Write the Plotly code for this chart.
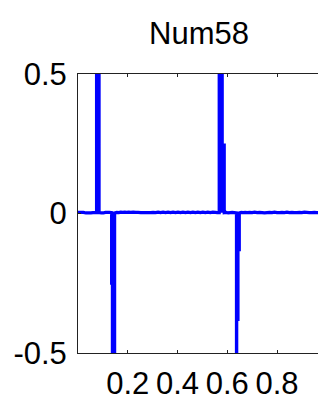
import plotly.graph_objects as go

title_text = "Num58"
x_tick_vals = [0.2, 0.4, 0.6, 0.8]
x_tick_text = ["0.2", "0.4", "0.6", "0.8"]
y_tick_vals = [-0.5, 0, 0.5]
y_tick_text = ["-0.5", "0", "0.5"]

signal_x = [
    0.000, 0.012, 0.022, 0.032, 0.042, 0.052, 0.060, 0.068, 0.0746,
    0.0746, 0.0847, 0.0847, 0.094, 0.102, 0.110, 0.118, 0.126, 0.1351,
    0.1351, 0.1383, 0.1383, 0.1472, 0.1472, 0.156, 0.164, 0.172, 0.180,
    0.188, 0.196, 0.204, 0.212, 0.222, 0.232, 0.242, 0.252, 0.262, 0.272,
    0.282, 0.292, 0.302, 0.312, 0.322, 0.332, 0.342, 0.352, 0.362, 0.372,
    0.382, 0.392, 0.402, 0.412, 0.422, 0.432, 0.442, 0.452, 0.462, 0.472,
    0.482, 0.492, 0.502, 0.512, 0.522, 0.532, 0.542, 0.552, 0.560, 0.5677,
    0.5677, 0.5798, 0.5798, 0.5798, 0.5879, 0.5879, 0.596, 0.604, 0.612, 0.620,
    0.628, 0.6371, 0.6371, 0.6380, 0.6380, 0.6431, 0.6431, 0.6484, 0.6484,
    0.656, 0.664, 0.672, 0.680, 0.690, 0.700, 0.710, 0.720, 0.730, 0.740,
    0.750, 0.760, 0.770, 0.780, 0.790, 0.800, 0.810, 0.820, 0.830, 0.840,
    0.850, 0.860, 0.870, 0.880, 0.890, 0.900, 0.910, 0.920, 0.930, 0.940,
    0.950, 0.960, 0.970, 0.980, 0.990, 1.000, 1.030,
]
signal_y = [
    0.004, 0.004, 0.004, 0.002, 0.002, 0.002, 0.003, 0.003, 0.003,
    1.800, 1.800, 0.003, 0.002, 0.002, 0.004, 0.004, 0.004, 0.003,
    -0.250, -0.250, -2.000, -2.000, 0.002, 0.004, 0.003, 0.005, 0.004,
    0.005, 0.004, 0.005, 0.004, 0.005, 0.004, 0.004, 0.003, 0.003, 0.003,
    0.003, 0.003, 0.004, 0.003, 0.005, 0.003, 0.005, 0.003, 0.005, 0.003,
    0.005, 0.003, 0.005, 0.003, 0.005, 0.003, 0.005, 0.003, 0.005, 0.003,
    0.005, 0.003, 0.005, 0.003, 0.005, 0.003, 0.005, 0.004, 0.003, 0.003,
    2.000, 2.000, 0.003, 0.245, 0.245, 0.003, 0.004, 0.002, 0.003, 0.004,
    0.003, 0.002, -2.000, -2.000, -0.380, -0.380, -0.130, -0.130, 0.002,
    0.004, 0.003, 0.004, 0.003, 0.004, 0.003, 0.005, 0.003, 0.004, 0.003,
    0.002, 0.003, 0.004, 0.003, 0.005, 0.003, 0.003, 0.004, 0.003, 0.005,
    0.003, 0.004, 0.003, 0.003, 0.004, 0.003, 0.005, 0.004, 0.003, 0.003,
    0.004, 0.003, 0.004, 0.003, 0.004, 0.004, 0.004,
]

FONT = "Liberation Sans, Arial, Helvetica, sans-serif"

fig = go.Figure()
fig.add_trace(go.Scatter(
    x=signal_x, y=signal_y, mode="lines",
    line=dict(color="#0000FF", width=3.2, simplify=False),
    showlegend=False, hoverinfo="skip",
))

# the page body adds an 8px offset; the figure is sized to the remaining window
fig.update_layout(
    width=318, height=397,
    margin=dict(l=70, r=0, t=66, b=52),
    paper_bgcolor="white", plot_bgcolor="white",
    font=dict(family=FONT, size=31, color="black"),
    title=dict(
        text=title_text, x=191 / 318, xanchor="center",
        y=1 - 25 / 397, yanchor="middle", yref="container", xref="container",
        font=dict(family=FONT, size=31, color="black"),
    ),
)
fig.update_xaxes(
    range=[0, 0.997], tickmode="array", tickvals=x_tick_vals, ticktext=x_tick_text,
    ticks="inside", ticklen=3, tickcolor="#222", showline=True, linecolor="#222",
    linewidth=1, mirror="ticks", showgrid=False, zeroline=False,
    ticklabelstandoff=3,
)
fig.update_yaxes(
    range=[-0.5, 0.5], tickmode="array", tickvals=y_tick_vals, ticktext=y_tick_text,
    ticks="inside", ticklen=3, tickcolor="#222", showline=True, linecolor="#222",
    linewidth=1, mirror="ticks", showgrid=False, zeroline=False,
    ticklabelstandoff=4,
)

fig.write_html("out.html")
